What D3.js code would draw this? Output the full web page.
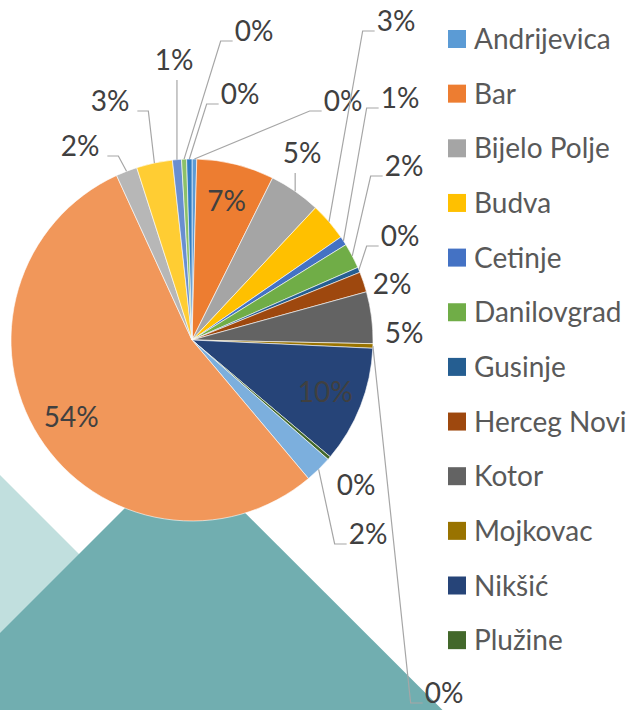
<!DOCTYPE html>
<meta charset="utf-8">
<script src="https://d3js.org/d3.v7.min.js"></script>
<style>
  body { margin: 0; background: #fff; }
  text { font-family: Lato, "Open Sans", sans-serif; }
</style>
<div id="my_dataviz"></div>
<script>

    // municipalities, in the order they appear in the pie (clockwise from 12 o'clock)
    var names = ["Andrijevica", "Bar", "Bijelo Polje", "Budva", "Cetinje", "Danilovgrad",
                 "Gusinje", "Herceg Novi", "Kotor", "Mojkovac", "Nikšić", "Plužine",
                 "Pljevlja", "Podgorica", "Rožaje", "Tivat", "Ulcinj", "Šavnik", "Žabljak"];

    // share of the total (%)
    var values = [0.42, 6.9, 4.6, 3.4, 0.8, 2.25,
                  0.47, 1.8, 4.6, 0.4, 10.4, 0.3,
                  2.4, 54.1, 1.9, 3.2, 0.8, 0.45, 0.47];

    // excel office palette (accent 1-6, then darker, then lighter)
    var colors = ["#5B9BD5", "#ED7D31", "#A5A5A5", "#FFC000", "#4472C4", "#70AD47",
                  "#255E91", "#9E480E", "#636363", "#997300", "#264478", "#43682B",
                  "#7CAFDD", "#F1975A", "#B7B7B7", "#FFCD33", "#698ED0", "#8CC168", "#327DC2"];

    // where each data label sits: "in" = inside the slice, otherwise text centre + leader side
    var labelPlaces = [
      {at: [343, 101], leader: "L"},
      {at: "in"},
      {at: [302, 153], leader: "B"},
      {at: [396, 21], leader: "L"},
      {at: [400, 98], leader: "L"},
      {at: [404, 166], leader: "L"},
      {at: [400, 236], leader: "L"},
      {at: [392, 284], leader: null},
      {at: [404, 333], leader: null},
      {at: [444, 693], leader: "L"},
      {at: "in"},
      {at: [356, 485], leader: null},
      {at: [368, 534], leader: "L"},
      {at: "in"},
      {at: [80, 146], leader: "R"},
      {at: [110, 101], leader: "R"},
      {at: [174, 60], leader: "B"},
      {at: [254, 31], leader: "L"},
      {at: [240, 94], leader: "L"}
    ];

    // only the first 12 legend entries fit in the box
    var legendShown = 12;

    var width = 638, height = 710;
    var cx = 192, cy = 340, radius = 181;

    var svg = d3.select("#my_dataviz")
      .append("svg")
        .attr("width", width)
        .attr("height", height);

    // slide background shapes
    svg.append("polygon")
        .attr("points", "0,475 235,710 0,710")
        .attr("fill", "#C1DFDE");
    svg.append("polygon")
        .attr("points", "182.5,450.5 442.5,710 -77,710")
        .attr("fill", "#71AEB0");

    var total = d3.sum(values);
    var data = names.map(function(n, i) { return {name: n, value: values[i], i: i}; });

    var pie = d3.pie()
      .sort(null)
      .value(function(d) { return d.value; });
    var arcs = pie(data);

    var arc = d3.arc().innerRadius(0).outerRadius(radius);
    var edge = d3.arc().innerRadius(radius).outerRadius(radius);
    var inner = d3.arc().innerRadius(radius * 0.79).outerRadius(radius * 0.79);

    var color = d3.scaleOrdinal().domain(names).range(colors);

    var g = svg.append("g")
        .attr("transform", "translate(" + cx + "," + cy + ")");

    // slices
    g.selectAll("path")
      .data(arcs)
      .enter()
      .append("path")
        .attr("d", arc)
        .attr("fill", function(d) { return color(d.data.name); })
        .attr("stroke", "#fff")
        .attr("stroke-width", 0.6);

    function pct(d) { return Math.round(d.data.value / total * 100) + "%"; }

    var fontSize = 28;

    // labels + leader lines
    var labels = svg.append("g");
    var leaders = svg.append("g");

    arcs.forEach(function(d, i) {
      var place = labelPlaces[i];
      var tx, ty;
      if (place.at === "in") {
        var c = inner.centroid(d);
        tx = c[0] + cx; ty = c[1] + cy;
      } else {
        tx = place.at[0]; ty = place.at[1];
      }
      var t = labels.append("text")
          .attr("x", tx)
          .attr("y", ty)
          .attr("dy", "0.36em")
          .attr("text-anchor", "middle")
          .style("font-size", fontSize + "px")
          .style("fill", "#404040")
          .text(pct(d));

      if (!place.leader) return;
      var w = t.node().getComputedTextLength();
      var e = edge.centroid(d);
      var ex = e[0] + cx, ey = e[1] + cy;
      var left = tx - w / 2, right = tx + w / 2;
      var pts;
      if (place.leader === "L") {
        pts = [[ex, ey], [left - 14, ty + 10], [left - 2, ty + 10]];
      } else if (place.leader === "R") {
        pts = [[ex, ey], [right + 19, ty + 10], [right + 8, ty + 10]];
      } else {
        var lx = Math.max(left, Math.min(right, ex));
        pts = [[ex, ey], [lx, ty + 20]];
      }
      leaders.append("polyline")
          .attr("points", pts.map(function(p) { return p.join(","); }).join(" "))
          .attr("fill", "none")
          .attr("stroke", "#A6A6A6")
          .attr("stroke-width", 1.2);
    });

    // legend
    var legend = svg.append("g")
      .selectAll("g")
      .data(names.slice(0, legendShown))
      .enter()
      .append("g")
        .attr("transform", function(d, i) { return "translate(448," + (30 + i * 54.65) + ")"; });

    legend.append("rect")
        .attr("width", 18)
        .attr("height", 18)
        .attr("fill", function(d) { return color(d); });

    legend.append("text")
        .attr("x", 26)
        .attr("y", 9)
        .attr("dy", "0.36em")
        .style("font-size", fontSize + "px")
        .style("fill", "#595959")
        .text(function(d) { return d; });

</script>
